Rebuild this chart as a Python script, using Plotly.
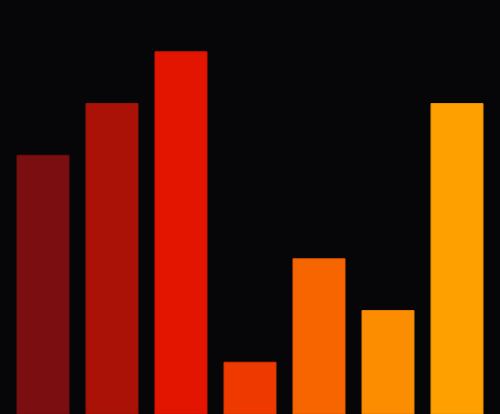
import plotly.graph_objects as go

# seven unlabeled categories, values on a 0-8 scale
categories = ["a", "b", "c", "d", "e", "f", "g"]
values = [5, 6, 7, 1, 3, 2, 6]
colors = ["#7b0e10", "#aa1208", "#e41500", "#ee3a00", "#f76500", "#fc8c00", "#fea100"]
edge_colors = ["#6e0d0e", "#981006", "#cc1300", "#d43400", "#dd5a00", "#e27d00", "#e49000"]

fig = go.Figure(go.Bar(
    x=categories,
    y=values,
    marker=dict(color=colors, line=dict(color=edge_colors, width=1)),
    hoverinfo="skip",
))

fig.update_layout(
    width=500,
    height=414,
    margin=dict(l=0, r=0, t=0, b=0),
    paper_bgcolor="#060608",
    plot_bgcolor="#060608",
    bargap=0.246,
    showlegend=False,
    xaxis=dict(visible=False, range=[-0.623, 6.623]),
    yaxis=dict(visible=False, range=[0, 8]),
)

# drop the default page margin so the chart fills the window
fig.write_html(
    "out.html",
    config={"displayModeBar": False},
    post_script="document.body.style.margin='0';document.body.style.background='#060608';",
)
